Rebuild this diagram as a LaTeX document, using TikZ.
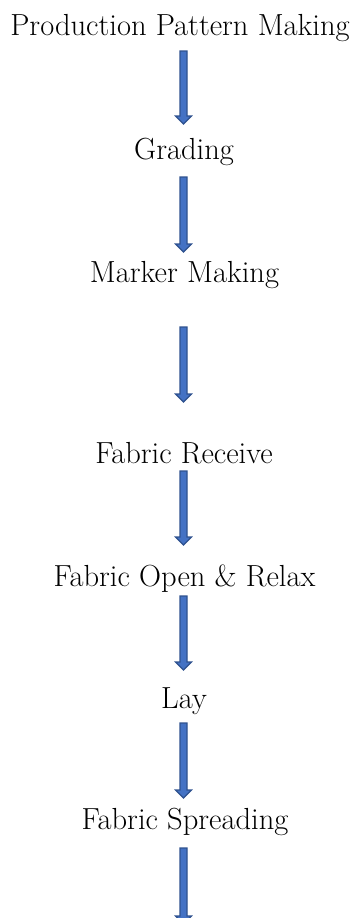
\documentclass[tikz,border=0pt]{standalone}
\usepackage{fontspec}
\usetikzlibrary{calc}

\definecolor{arrowfill}{HTML}{4472C4}
\definecolor{arrowedge}{HTML}{2F528F}

% block arrow from a tail coordinate down to a tip coordinate
\newcommand\blockarrow[2]{%
  \draw[flowarrow]
    ($(#1)+(-3.5,0)$) -- ($(#2)+(-3.5,-8)$) -- ($(#2)+(-8,-8)$) -- (#2)
    -- ($(#2)+(8,-8)$) -- ($(#2)+(3.5,-8)$) -- ($(#1)+(3.5,0)$) -- cycle;}

\begin{document}
\begin{tikzpicture}[x=1pt,y=-1pt,
  stage/.style={anchor=base,inner sep=0pt,font=\fontsize{30.5}{36}\selectfont},
  flowarrow/.style={fill=arrowfill,draw=arrowedge,line width=1.1pt,line join=miter}]
  \useasboundingbox (0,0) rectangle (359,918);
  \clip (0,0) rectangle (359,918);

  % process stages
  \node[stage] (ppm)    at (180,35)  {Production Pattern Making};
  \node[stage] (grad)   at (184,159) {Grading};
  \node[stage] (marker) at (184.5,282) {Marker Making};
  \node[stage] (recv)   at (184,463) {Fabric Receive};
  \node[stage] (relax)  at (184.5,586) {Fabric Open \& Relax};
  \node[stage] (lay)    at (184,708) {Lay};
  \node[stage] (spread) at (185,829) {Fabric Spreading};

  % arrow tails and tips
  \coordinate (t1) at (183.5,51);  \coordinate (h1) at (183.5,124);
  \coordinate (t2) at (183.5,177); \coordinate (h2) at (183.5,252);
  \coordinate (t3) at (183.5,327); \coordinate (h3) at (183.5,402);
  \coordinate (t4) at (183.5,471); \coordinate (h4) at (183.5,545);
  \coordinate (t5) at (183.5,596); \coordinate (h5) at (183.5,670);
  \coordinate (t6) at (183.5,723); \coordinate (h6) at (183.5,798);
  \coordinate (t7) at (183.5,848); \coordinate (h7) at (183.5,924);

  \blockarrow{t1}{h1}
  \blockarrow{t2}{h2}
  \blockarrow{t3}{h3}
  \blockarrow{t4}{h4}
  \blockarrow{t5}{h5}
  \blockarrow{t6}{h6}
  \blockarrow{t7}{h7}
\end{tikzpicture}
\end{document}
